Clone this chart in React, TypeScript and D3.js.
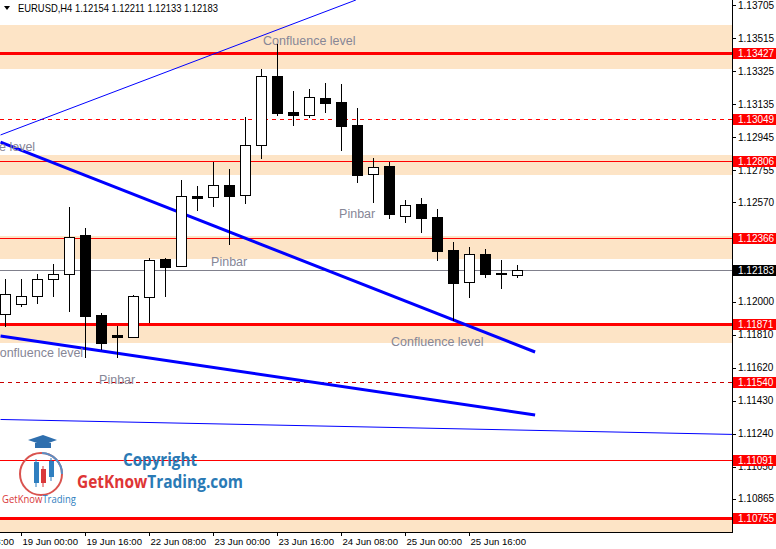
import * as d3 from 'd3';

const opens = [1.11927, 1.11984, 1.1203, 1.12128, 1.12157, 1.12383, 1.11923, 1.11808, 1.11795, 1.12028, 1.12243, 1.12203, 1.12607, 1.12601, 1.12668, 1.12611, 1.12898, 1.13297, 1.1309, 1.13071, 1.1317, 1.13146, 1.13015, 1.12732, 1.12778, 1.1249, 1.12559, 1.12486, 1.12295, 1.12111, 1.12273, 1.12164, 1.12154];
const highs = [1.1213, 1.1213, 1.12159, 1.12216, 1.12542, 1.12421, 1.11936, 1.1186, 1.12038, 1.12249, 1.12249, 1.12699, 1.12664, 1.12804, 1.12762, 1.13059, 1.13337, 1.13479, 1.13211, 1.13222, 1.13258, 1.13249, 1.13111, 1.12824, 1.12804, 1.12584, 1.12595, 1.12532, 1.12341, 1.12312, 1.12302, 1.12237, 1.12211];
const lows = [1.11856, 1.11971, 1.11984, 1.12028, 1.11938, 1.11677, 1.11722, 1.11677, 1.1179, 1.11875, 1.12028, 1.122, 1.12522, 1.12545, 1.12327, 1.12563, 1.12818, 1.13067, 1.13009, 1.13054, 1.13086, 1.12867, 1.12683, 1.12568, 1.12476, 1.12453, 1.12396, 1.12235, 1.1189, 1.12022, 1.12137, 1.12074, 1.12133];
const closes = [1.12042, 1.1203, 1.12128, 1.12157, 1.12373, 1.11919, 1.11764, 1.11795, 1.12032, 1.12239, 1.122, 1.12605, 1.12597, 1.12668, 1.12609, 1.12898, 1.13297, 1.13086, 1.13071, 1.13174, 1.13143, 1.13011, 1.12729, 1.12775, 1.12505, 1.12557, 1.12482, 1.12292, 1.12108, 1.12272, 1.1216, 1.12157, 1.12183];

// the terminal hides 1.12380 and 1.12190 behind the level boxes
const priceTicks = ['1.13705', '1.13515', '1.13325', '1.13135', '1.12945', '1.12755', '1.12570', '1.12000', '1.11810', '1.11620', '1.11430', '1.11240', '1.11050', '1.10865'];
const dateLabels = ['18 Jun 08:00', '19 Jun 00:00', '19 Jun 16:00', '22 Jun 08:00', '23 Jun 00:00', '23 Jun 16:00', '24 Jun 08:00', '25 Jun 00:00', '25 Jun 16:00'];
const dateIdx = [-3, 1, 5, 9, 13, 17, 21, 25, 29];

// support / resistance
const thickLevels = [1.13427, 1.11871, 1.10755];
const thinLevels = [1.12806, 1.12366, 1.11091];
const dashedLevels = [1.13049, 1.1154];
const bidPrice = 1.12183;
const zoneTops = [1.1359, 1.12843, 1.12377, 1.11871, 1.10755];
const zoneBottoms = [1.13337, 1.12728, 1.12245, 1.11762, 1.106];

// trend lines as [candle index, price]
const thinRising = [[-0.31, 1.12958], [21.9, 1.13734]];
const upperFalling = [[-0.31, 1.12917], [33.1, 1.1171]];
const lowerFalling = [[-0.31, 1.11802], [33.1, 1.11348]];
const flatLine = [[-0.31, 1.11322], [45.5, 1.11236]];

const noteTexts = ['Confluence level', 'Confluence level', 'Pinbar', 'Pinbar', 'Confluence level', 'Confluence level', 'Pinbar'];
const noteIdx = [16.1, 1.85, 20.85, 12.85, 4.85, 24.1, 5.85];
const notePrice = [1.13475, 1.12863, 1.12478, 1.12205, 1.11684, 1.11745, 1.11526];
const noteEnd = [false, true, false, false, true, false, false];

const W = 776;
const H = 549;
const plotW = 732;
const plotH = 532;
const sans = "'Liberation Sans', Arial, sans-serif";

export default function App() {
  const x = d3.scaleLinear().domain([0, 1]).range([5.5, 21.5]);
  const y = d3.scaleLinear().domain([1.10675, 1.13734]).range([plotH, 0]);
  const px = (p: number) => Math.round(y(p)) + 0.5; // crisp 1px lines
  const line = d3.line<number[]>().x((d) => x(d[0])).y((d) => y(d[1]));

  const redLevels = [...thickLevels, ...thinLevels, ...dashedLevels];

  return (
    <svg width={W} height={H} style={{ position: 'fixed', left: 0, top: 0, background: '#fff' }} fontFamily={sans}>
      <defs>
        <clipPath id="plot">
          <rect x={0} y={0} width={plotW} height={plotH} />
        </clipPath>
      </defs>
      <rect width={W} height={H} fill="#fff" />
      <g clipPath="url(#plot)">
        {zoneTops.map((t, i) => (
          <rect key={'z' + i} x={0} width={plotW} y={Math.round(y(t))} height={Math.round(y(zoneBottoms[i])) - Math.round(y(t))} fill="#fde4c6" />
        ))}
        <line x1={0} x2={plotW} y1={px(bidPrice)} y2={px(bidPrice)} stroke="#80808c" strokeWidth={1} />
        {thinLevels.map((p, i) => (
          <line key={'t' + i} x1={0} x2={plotW} y1={px(p)} y2={px(p)} stroke="#ff0000" strokeWidth={1} />
        ))}
        {dashedLevels.map((p, i) => (
          <line key={'d' + i} x1={0} x2={plotW} y1={px(p)} y2={px(p)} stroke={i === 0 ? '#ff0000' : '#c80000'} strokeWidth={1} strokeDasharray="4,4" />
        ))}
        {thickLevels.map((p, i) => (
          <line key={'k' + i} x1={0} x2={plotW} y1={px(p)} y2={px(p)} stroke="#ff0000" strokeWidth={3} />
        ))}
        <path d={line(thinRising) ?? ''} stroke="#0000ff" strokeWidth={1} fill="none" />
        <path d={line(flatLine) ?? ''} stroke="#0000ff" strokeWidth={1} fill="none" />
        <path d={line(upperFalling) ?? ''} stroke="#0000ff" strokeWidth={3} fill="none" />
        <path d={line(lowerFalling) ?? ''} stroke="#0000ff" strokeWidth={3} fill="none" />
        {noteTexts.map((t, i) => (
          <text key={'n' + i} x={x(noteIdx[i])} y={y(notePrice[i])} fontSize={12.5} fill="#868696" textAnchor={noteEnd[i] ? 'end' : 'start'}>
            {t}
          </text>
        ))}
        {opens.map((o, i) => {
          const c = closes[i];
          const cx = x(i);
          const top = Math.round(y(Math.max(o, c))) + 0.5;
          const bot = Math.round(y(Math.min(o, c))) + 0.5;
          const bull = c >= o;
          return (
            <g key={'c' + i}>
              <line x1={cx} x2={cx} y1={Math.round(y(highs[i]))} y2={Math.round(y(lows[i]))} stroke="#000" strokeWidth={1} />
              <rect x={cx - 5} width={10} y={top} height={Math.max(bot - top, 1)} fill={bull ? '#fff' : '#000'} stroke="#000" strokeWidth={1} />
            </g>
          );
        })}
      </g>

      {/* header */}
      <path d="M4,6 L10,6 L7,10 Z" fill="#000" />
      <text x={18} y={12} fontSize={10.5} fill="#000" textLength={200} lengthAdjust="spacingAndGlyphs">
        EURUSD,H4  1.12154 1.12211 1.12133 1.12183
      </text>

      {/* logo */}
      <g>
        <circle cx={41} cy={474} r={21} fill="none" stroke="#d9534f" strokeWidth={2} />
        <path d="M42,453 A21,21 0 0 1 62,474" fill="none" stroke="#5a8fc4" strokeWidth={2} />
        <path d="M28,440 L43,435 L57,440 L43,445 Z" fill="#2f6fae" />
        <rect x={35} y={443} width={16} height={5} fill="#2f6fae" />
        <line x1={36} x2={36} y1={459} y2={487} stroke="#2f7fc0" strokeWidth={1} />
        <rect x={34} y={462} width={5} height={21} fill="#2f7fc0" />
        <line x1={43} x2={43} y1={466} y2={487} stroke="#d9383a" strokeWidth={1} />
        <rect x={41} y={469} width={5} height={14} fill="#d9383a" />
        <line x1={51} x2={51} y1={458} y2={481} stroke="#2f7fc0" strokeWidth={1} />
        <rect x={49} y={461} width={5} height={16} fill="#2f7fc0" />
        <text x={2} y={503} fontSize={10} textLength={74} lengthAdjust="spacingAndGlyphs" fontFamily="'Open Sans', sans-serif">
          <tspan fill="#d9383a">GetKnow</tspan>
          <tspan fill="#2f7fc0">Trading</tspan>
        </text>
        <text x={123} y={466} fontSize={17} fontWeight="bold" fill="#2a7ab5" textLength={74} lengthAdjust="spacingAndGlyphs" fontFamily="'Open Sans', sans-serif">
          Copyright
        </text>
        <text x={77} y={488} fontSize={18} fontWeight="bold" textLength={166} lengthAdjust="spacingAndGlyphs" fontFamily="'Open Sans', sans-serif">
          <tspan fill="#de3535">GetKnow</tspan>
          <tspan fill="#2a7ab5">Trading.com</tspan>
        </text>
      </g>

      {/* axes */}
      <line x1={plotW + 0.5} x2={plotW + 0.5} y1={0} y2={plotH + 1} stroke="#000" />
      <line x1={0} x2={plotW + 1} y1={plotH + 0.5} y2={plotH + 0.5} stroke="#000" />
      {priceTicks.map((t) => (
        <g key={t}>
          <line x1={plotW} x2={plotW + 4} y1={px(+t)} y2={px(+t)} stroke="#000" />
          <text x={738} y={y(+t)} dy="0.35em" fontSize={10} fill="#000">
            {t}
          </text>
        </g>
      ))}
      {dateIdx.map((d, i) => (
        <g key={'x' + i}>
          <line x1={x(d)} x2={x(d)} y1={plotH} y2={plotH + 4} stroke="#000" />
          <text x={x(d) + 1} y={545} fontSize={9.6} fill="#000">
            {dateLabels[i]}
          </text>
        </g>
      ))}
      {redLevels.map((p, i) => (
        <g key={'b' + i}>
          <rect x={733} y={Math.round(y(p)) - 5} width={43} height={11} fill="#ff0000" />
          <text x={738} y={Math.round(y(p)) + 0.5} dy="0.35em" fontSize={10} fill="#fff">
            {p.toFixed(5)}
          </text>
        </g>
      ))}
      <rect x={733} y={Math.round(y(bidPrice)) - 5} width={43} height={11} fill="#000" />
      <text x={738} y={Math.round(y(bidPrice)) + 0.5} dy="0.35em" fontSize={10} fill="#fff">
        {bidPrice.toFixed(5)}
      </text>
    </svg>
  );
}
